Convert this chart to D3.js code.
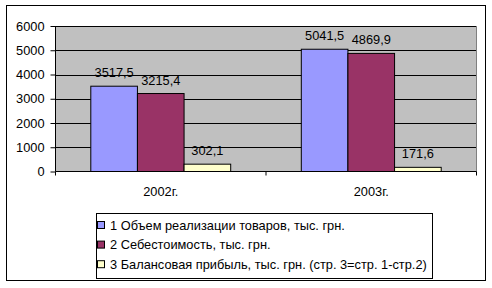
<!DOCTYPE html>
<html>
<head>
<meta charset="utf-8">
<script src="https://cdn.jsdelivr.net/npm/d3@7"></script>
<style>
body{margin:0;background:#fff;}
text{font-family:"Liberation Sans",Arial,sans-serif;fill:#000;}
</style>
</head>
<body>
<svg id="chart" width="492" height="288"></svg>
<script>
var years = ["2002г.", "2003г."];
var seriesNames = [
	"1 Объем реализации товаров, тыс. грн.",
	"2 Себестоимость, тыс. грн.",
	"3 Балансовая прибыль, тыс. грн. (стр. 3=стр. 1-стр.2)"
];
var sales = [3517.5, 5041.5];
var cost = [3215.4, 4869.9];
var profit = [302.1, 171.6];
var yTicks = [0, 1000, 2000, 3000, 4000, 5000, 6000];
var colors = ["#9999FF", "#993366", "#FFFFCC"];

var svg = d3.select("#chart");
var series = [sales, cost, profit];
var fs = "12.8px";

// outer frame
svg.append("rect").attr("x",6.5).attr("y",5.5).attr("width",479).attr("height",275)
	.attr("fill","#fff").attr("stroke","#000").attr("stroke-width",1);

var pLeft = 55.5, pRight = 476.5, pTop = 26, pBottom = 171.5;

var x0 = d3.scaleBand().domain(years).range([pLeft, pRight]).paddingInner(0).paddingOuter(0);
var x1 = d3.scaleBand().domain([0,1,2]).range([35.3, x0.bandwidth() - 35.3]);
var y = d3.scaleLinear().domain([0, 6000]).range([pBottom, pTop]);

// plot background
svg.append("rect").attr("x",pLeft).attr("y",pTop).attr("width",pRight-pLeft).attr("height",pBottom-pTop)
	.attr("fill","#C0C0C0");

// gridlines
svg.selectAll(".grid").data(yTicks.slice(1)).enter().append("line")
	.attr("x1",pLeft).attr("x2",pRight)
	.attr("y1",function(d){return Math.round(y(d))+0.5;}).attr("y2",function(d){return Math.round(y(d))+0.5;})
	.attr("stroke","#000");

// plot border on the right
svg.append("line").attr("x1",pRight).attr("x2",pRight).attr("y1",pTop).attr("y2",pBottom).attr("stroke","#808080");

// bars
var groups = svg.selectAll(".grp").data(years).enter().append("g")
	.attr("transform",function(d){return "translate("+x0(d)+",0)";});

groups.each(function(yr, i){
	var g = d3.select(this);
	series.forEach(function(s, k){
		g.append("rect")
			.attr("x", x1(k))
			.attr("y", y(s[i]))
			.attr("width", x1.bandwidth())
			.attr("height", pBottom - y(s[i]))
			.attr("fill", colors[k]).attr("stroke","#000").attr("stroke-width",1);
		g.append("text")
			.attr("x", x1(k) + x1.bandwidth()/2)
			.attr("y", y(s[i]) - 9)
			.attr("text-anchor","middle")
			.style("font-size",fs)
			.text(String(s[i]).replace(".", ","));
	});
});

// y axis
var yAxis = d3.axisLeft(y).tickValues(yTicks).tickFormat(d3.format("d")).tickSize(5).tickPadding(6);
var ya = svg.append("g").attr("transform","translate("+pLeft+",0)").call(yAxis);
ya.select(".domain").remove();
ya.selectAll("line").attr("stroke","#000");
ya.selectAll("text").style("font-size",fs).attr("font-family",null);
svg.append("line").attr("x1",pLeft).attr("x2",pLeft).attr("y1",pTop).attr("y2",pBottom).attr("stroke","#000");

// x axis
svg.append("line").attr("x1",pLeft).attr("x2",pRight).attr("y1",pBottom).attr("y2",pBottom).attr("stroke","#000");
var xt = [pLeft].concat(years.map(function(d){return x0(d)+x0.bandwidth();}));
svg.selectAll(".xt").data(xt).enter().append("line")
	.attr("x1",function(d){return d;}).attr("x2",function(d){return d;})
	.attr("y1",pBottom).attr("y2",pBottom+4).attr("stroke","#000");
svg.selectAll(".xl").data(years).enter().append("text")
	.attr("x",function(d){return x0(d)+x0.bandwidth()/2;})
	.attr("y",196).attr("text-anchor","middle").style("font-size",fs)
	.text(function(d){return d;});

// legend
var lg = svg.append("g");
lg.append("rect").attr("x",96.5).attr("y",213.5).attr("width",336).attr("height",65)
	.attr("fill","#fff").attr("stroke","#000");
seriesNames.forEach(function(n, k){
	var cy = 225 + k*19.6;
	lg.append("rect").attr("x",97.5).attr("y",cy-3.5).attr("width",7).attr("height",7)
		.attr("fill",colors[k]).attr("stroke","#000");
	lg.append("text").attr("x",110).attr("y",cy+4.5).style("font-size",fs).text(n);
});
</script>
</body>
</html>
